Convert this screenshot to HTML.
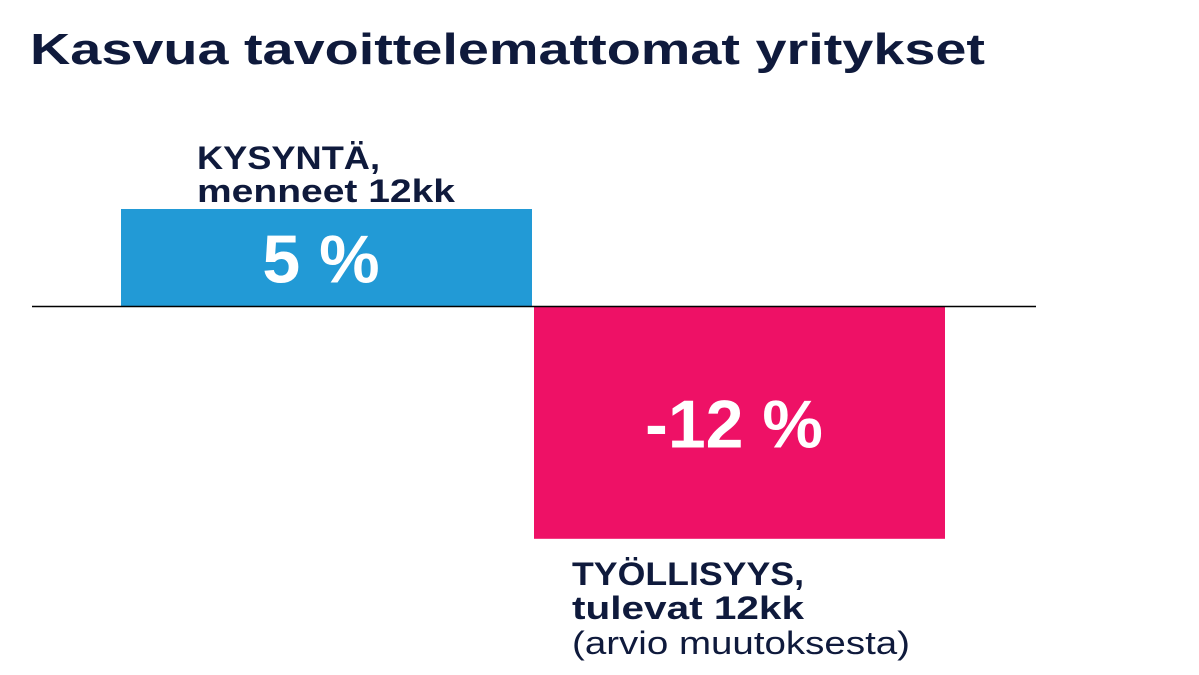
<!DOCTYPE html>
<html><head><meta charset="utf-8"><style>
html,body{margin:0;padding:0;background:#fff;}
svg{display:block;font-family:"Liberation Sans",sans-serif;}
</style></head><body>
<svg width="1199" height="675" viewBox="0 0 1199 675">
<text x="30" y="64" font-size="44" font-weight="bold" fill="#0f1a3c" textLength="955" lengthAdjust="spacingAndGlyphs">Kasvua tavoittelemattomat yritykset</text>
<g id="bars"></g>
<line x1="32" x2="1036" y1="306.5" y2="306.5" stroke="#000" stroke-width="1.5"/>
<text x="197" y="169" font-size="32" font-weight="bold" fill="#0f1a3c" textLength="183" lengthAdjust="spacingAndGlyphs">KYSYNTÄ,</text>
<text x="197" y="202" font-size="32" font-weight="bold" fill="#0f1a3c" textLength="258" lengthAdjust="spacingAndGlyphs">menneet 12kk</text>
<text x="572" y="585" font-size="32" font-weight="bold" fill="#0f1a3c" textLength="232" lengthAdjust="spacingAndGlyphs">TYÖLLISYYS,</text>
<text x="572" y="619" font-size="32" font-weight="bold" fill="#0f1a3c" textLength="232" lengthAdjust="spacingAndGlyphs">tulevat 12kk</text>
<text x="572" y="654" font-size="32" fill="#0f1a3c" textLength="338" lengthAdjust="spacingAndGlyphs">(arvio muutoksesta)</text>
</svg>
<script>
const categories = ["Kysyntä", "Työllisyys"];
const values = [5, -12];
const valueLabels = ["5 %", "-12 %"];
const colors = ["#229ad6", "#ee1166"];
const zeroY = 306, pxPerUnit = 19.4;
const y = v => zeroY - v * pxPerUnit;
const xStart = 121, barW = 412;
const ns = "http://www.w3.org/2000/svg";
const g = document.getElementById("bars");
values.forEach((v, i) => {
  const r = document.createElementNS(ns, "rect");
  const x0 = xStart + i * barW + (i ? 1 : 0);
  r.setAttribute("x", x0);
  r.setAttribute("y", Math.min(y(v), zeroY));
  r.setAttribute("width", barW - 1);
  r.setAttribute("height", Math.abs(y(v) - zeroY));
  r.setAttribute("fill", colors[i]);
  
  
  g.appendChild(r);
  const t = document.createElementNS(ns, "text");
  t.setAttribute("x", x0 + barW / 2 - 6);
  t.setAttribute("y", (y(v) + zeroY) / 2 + 25);
  t.setAttribute("text-anchor", "middle");
  t.setAttribute("font-size", "68");
  t.setAttribute("font-weight", "bold");
  t.setAttribute("fill", "#fff");
  t.textContent = valueLabels[i];
  
  
  g.appendChild(t);
});
</script>
</body></html>
